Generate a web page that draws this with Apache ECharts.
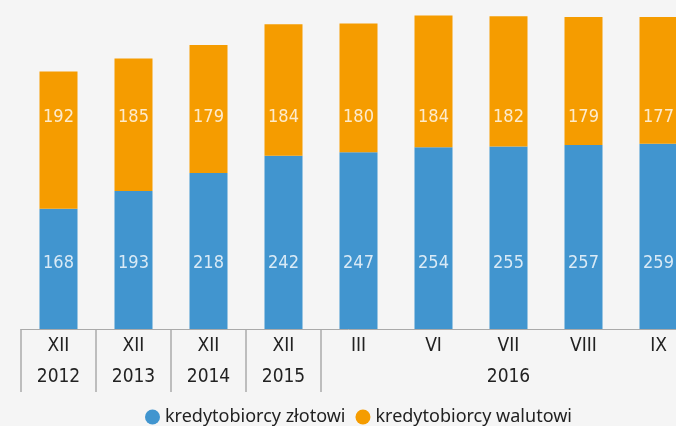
<!DOCTYPE html>
<html><head><meta charset="utf-8">
<script src="https://cdn.jsdelivr.net/npm/echarts@6/dist/echarts.min.js"></script>
<style>html,body{margin:0;padding:0;background:#f5f5f5}#c{width:676px;height:426px}</style>
</head><body><div id="c"></div>
<script>
const months = ['XII','XII','XII','XII','III','VI','VII','VIII','IX'];
const years = ['2012','2013','2014','2015','','','2016','',''];
const zlotowi = [168,193,218,242,247,254,255,257,259];
const walutowi = [192,185,179,184,180,184,182,179,177];
const nameZl = 'kredytobiorcy złotowi';
const nameWal = 'kredytobiorcy walutowi';

const BLUE = '#4195cf', ORANGE = '#f59c00';
const labelFont = '"DejaVu Sans",sans-serif';
const chart = echarts.init(document.getElementById('c'), null, {renderer:'canvas'});
function labelSeries(vals, yPos){
  return {
    type:'scatter', silent:true, symbolSize:1, z:10,
    itemStyle:{color:'rgba(0,0,0,0)'},
    data: vals.map((v,i)=>[i, yPos]),
    label:{show:true, position:'inside', color:'#fff', fontSize:18, fontWeight:'condensed', fontFamily:labelFont,
      formatter: p => String(vals[p.dataIndex])}
  };
}
chart.setOption({
  backgroundColor:'#f5f5f5',
  animation:false,
  grid:{left:21, width:675, top:7, bottom:97, outerBoundsMode:'none', containLabel:false},
  legend:{
    data:[nameZl, nameWal], left:140, top:403, icon:'circle',
    itemWidth:15, itemHeight:15, itemGap:10,
    textStyle:{color:'#222', fontSize:18, fontFamily:'"Noto Sans",sans-serif'}
  },
  xAxis:{
    type:'category', data: months.map((m,i)=>m),
    axisLine:{lineStyle:{color:'#aaa', width:1}},
    axisTick:{show:true, length:63, lineStyle:{color:'#aaa', width:1.5},
      interval:(idx)=> idx <= 4},
    axisLabel:{interval:0, color:'#222', fontSize:19, fontWeight:'condensed', fontFamily:labelFont, lineHeight:31, margin:2,
      formatter:(v,i)=> months[i] + '\n' + (years[i] || ' ')}
  },
  yAxis:{type:'value', min:0, max:450, show:false, splitLine:{show:false}},
  series:[
    {name:nameZl, type:'bar', stack:'a', barWidth:38, data:zlotowi, itemStyle:{color:BLUE}},
    {name:nameWal, type:'bar', stack:'a', barWidth:38, data:walutowi, itemStyle:{color:ORANGE}},
    labelSeries(zlotowi, 92),
    labelSeries(walutowi, 296)
  ]
});
</script></body></html>
